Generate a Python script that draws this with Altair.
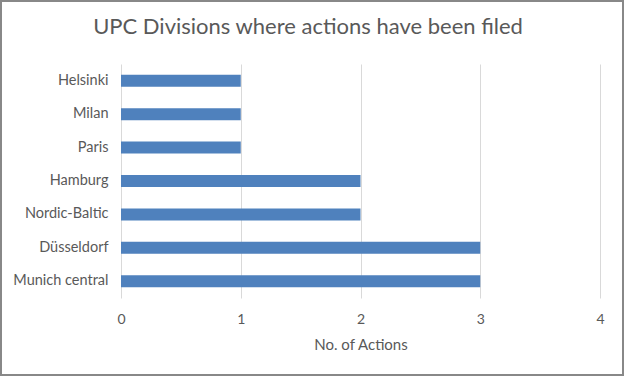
import altair as alt
import pandas as pd

divisions = ["Helsinki", "Milan", "Paris", "Hamburg", "Nordic-Baltic", "Düsseldorf", "Munich central"]
actions = [1, 1, 1, 2, 2, 3, 3]
title_text = ["UPC Divisions where actions have been filed"]

df = pd.DataFrame({"division": divisions, "actions": actions})
tdf = pd.DataFrame({"t": title_text})

FONT = "Lato"
GREY = "#595959"

bars = alt.Chart(df).mark_bar(color="#4F81BD").encode(
    x=alt.X("actions:Q", scale=alt.Scale(domain=[0, 4], nice=False),
            axis=alt.Axis(title="No. of Actions", values=[0, 1, 2, 3, 4], format="d",
                          grid=True, gridColor="#d9d9d9", domain=False, ticks=False,
                          labelFlush=False,
                          labelPadding=14, labelFontSize=14, labelColor=GREY, labelFont=FONT,
                          titleFont=FONT, titleFontSize=15, titleFontWeight="normal",
                          titleColor=GREY, titlePadding=11)),
    y=alt.Y("division:N", sort=divisions,
            scale=alt.Scale(paddingInner=0.64, paddingOuter=0.32),
            axis=alt.Axis(title=None, domain=False, ticks=False, labelPadding=13,
                          labelFontSize=14.5, labelColor=GREY, labelFont=FONT)),
)

title = alt.Chart(tdf).mark_text(font=FONT, fontSize=22, color=GREY, align="center",
                                 baseline="middle", clip=False).encode(
    text="t:N", x=alt.value(187), y=alt.value(-37)
)

border = alt.Chart(df).mark_rect(fill=None, stroke="#888888", strokeWidth=1.5, clip=False).encode(
    x=alt.value(-120), x2=alt.value(502), y=alt.value(-63), y2=alt.value(77 + 234)
)

chart = alt.layer(bars, title, border).properties(
    width=479, height=234,
    autosize=alt.AutoSizeParams(type="none"),
    padding={"left": 121, "top": 64, "right": 24, "bottom": 78},
).configure_view(stroke=None)

chart.save("out.html", embed_options={"renderer": "svg", "actions": False})
